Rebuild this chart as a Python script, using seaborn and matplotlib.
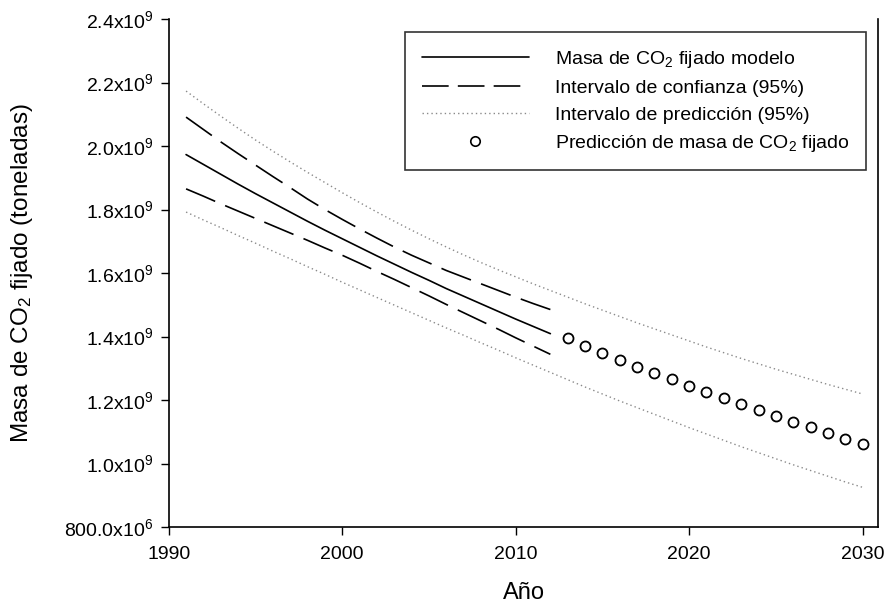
import numpy as np
import pandas as pd
import matplotlib
matplotlib.use("Agg")
import matplotlib.pyplot as plt
from matplotlib.lines import Line2D
import seaborn as sns

# ---- data (toneladas) ----
years_model = list(range(1991, 2013))
co2_model = [1.973, 1.942, 1.911, 1.880, 1.850, 1.821, 1.792, 1.763, 1.735, 1.708, 1.681,
             1.654, 1.628, 1.602, 1.577, 1.551, 1.527, 1.503, 1.479, 1.455, 1.432, 1.409]
ci_upper = [2.091, 2.052, 2.013, 1.976, 1.940, 1.904, 1.869, 1.833, 1.800, 1.769, 1.739,
            1.710, 1.682, 1.656, 1.632, 1.608, 1.587, 1.566, 1.545, 1.524, 1.504, 1.485]
ci_lower = [1.865, 1.842, 1.818, 1.795, 1.772, 1.749, 1.726, 1.703, 1.679, 1.656, 1.631,
            1.605, 1.580, 1.554, 1.528, 1.501, 1.475, 1.449, 1.423, 1.396, 1.370, 1.344]

years_pi = list(range(1991, 2031))
pi_upper = [2.173, 2.133, 2.094, 2.056, 2.019, 1.984, 1.950, 1.917, 1.885, 1.853, 1.822,
            1.792, 1.763, 1.735, 1.708, 1.682, 1.657, 1.633, 1.610, 1.588, 1.566, 1.545,
            1.524, 1.503, 1.483, 1.463, 1.443, 1.424, 1.405, 1.386, 1.367, 1.349, 1.331,
            1.314, 1.297, 1.281, 1.265, 1.249, 1.234, 1.219]
pi_lower = [1.792, 1.767, 1.743, 1.718, 1.694, 1.669, 1.645, 1.620, 1.596, 1.571, 1.547,
            1.523, 1.499, 1.475, 1.451, 1.427, 1.404, 1.380, 1.357, 1.333, 1.310, 1.287,
            1.264, 1.241, 1.219, 1.197, 1.176, 1.155, 1.134, 1.113, 1.093, 1.073, 1.053,
            1.034, 1.015, 0.996, 0.978, 0.960, 0.942, 0.925]

years_pred = list(range(2013, 2031))
co2_pred = [1.394, 1.370, 1.349, 1.326, 1.305, 1.284, 1.266, 1.244, 1.226, 1.206, 1.187,
            1.168, 1.150, 1.132, 1.114, 1.096, 1.077, 1.061]

y_ticks = [0.8e9, 1.0e9, 1.2e9, 1.4e9, 1.6e9, 1.8e9, 2.0e9, 2.2e9, 2.4e9]
y_ticklabels = [r"800.0x10$^{6}$", r"1.0x10$^{9}$", r"1.2x10$^{9}$", r"1.4x10$^{9}$",
                r"1.6x10$^{9}$", r"1.8x10$^{9}$", r"2.0x10$^{9}$", r"2.2x10$^{9}$",
                r"2.4x10$^{9}$"]
x_ticks = [1990, 2000, 2010, 2020, 2030]

SCALE = 1e9
model_df = pd.DataFrame({"Año": years_model, "modelo": np.array(co2_model) * SCALE,
                         "ic_sup": np.array(ci_upper) * SCALE,
                         "ic_inf": np.array(ci_lower) * SCALE})
pi_df = pd.DataFrame({"Año": years_pi, "ip_sup": np.array(pi_upper) * SCALE,
                      "ip_inf": np.array(pi_lower) * SCALE})
pred_df = pd.DataFrame({"Año": years_pred, "pred": np.array(co2_pred) * SCALE})

# ---- style ----
sns.set_theme(style="ticks")
plt.rcParams["font.family"] = ["Liberation Sans", "DejaVu Sans"]
plt.rcParams["mathtext.fontset"] = "custom"
plt.rcParams["mathtext.rm"] = "Liberation Sans"
plt.rcParams["mathtext.it"] = "Liberation Sans"
plt.rcParams["mathtext.default"] = "rm"
plt.rcParams["text.color"] = "black"
plt.rcParams["axes.labelcolor"] = "black"

fig = plt.figure(figsize=(8.88, 6.09), dpi=100)
ax = fig.add_axes([0.190, 0.1346, 0.799, 0.8342])

dash_style = (0, (19, 6.5))
dot_style = (0, (1, 2.2))
GREY = "#8a8a8a"

sns.lineplot(data=model_df, x="Año", y="modelo", ax=ax, color="black", lw=1.2)
sns.lineplot(data=model_df, x="Año", y="ic_sup", ax=ax, color="black", lw=1.2,
             linestyle=dash_style)
sns.lineplot(data=model_df, x="Año", y="ic_inf", ax=ax, color="black", lw=1.2,
             linestyle=dash_style)
sns.lineplot(data=pi_df, x="Año", y="ip_sup", ax=ax, color=GREY, lw=1.0,
             linestyle=dot_style)
sns.lineplot(data=pi_df, x="Año", y="ip_inf", ax=ax, color=GREY, lw=1.0,
             linestyle=dot_style)
sns.scatterplot(data=pred_df, x="Año", y="pred", ax=ax, marker="o", s=52,
                facecolor="white", edgecolor="black", linewidth=1.3, zorder=5)

ax.set_xlim(1990, 2030.9)
ax.set_ylim(0.8e9, 2.4e9)
ax.set_xticks(x_ticks)
ax.set_xticklabels([str(v) for v in x_ticks])
ax.set_yticks(y_ticks)
ax.set_yticklabels(y_ticklabels)
ax.tick_params(axis="both", direction="out", length=6, width=1.0, colors="black",
               labelsize=14, pad=5)
ax.tick_params(axis="x", pad=8)

for side in ["left", "bottom", "right"]:
    ax.spines[side].set_visible(True)
    ax.spines[side].set_color("black")
    ax.spines[side].set_linewidth(1.2)
ax.spines["top"].set_visible(False)

ax.set_xlabel("Año", fontsize=17, labelpad=13)
ax.set_ylabel(r"Masa de CO$_2$ fijado (toneladas)", fontsize=17.5, labelpad=21)

handles = [
    Line2D([], [], color="black", lw=1.2),
    Line2D([], [], color="black", lw=1.2, linestyle=(0, (16, 5.5))),
    Line2D([], [], color=GREY, lw=1.0, linestyle=dot_style),
    Line2D([], [], color="black", lw=0, marker="o", markersize=6.8,
           markerfacecolor="white", markeredgecolor="black", markeredgewidth=1.2),
]
labels = [r"Masa de CO$_2$ fijado modelo", "Intervalo de confianza (95%)",
          "Intervalo de predicción (95%)", r"Predicción de masa de CO$_2$ fijado"]
leg = ax.legend(handles, labels, loc="upper right", bbox_to_anchor=(0.983, 0.974),
                fontsize=14, frameon=True, fancybox=False, edgecolor="black",
                handlelength=5.5, handletextpad=1.35, labelspacing=0.48,
                borderpad=0.85, borderaxespad=0)
leg.get_frame().set_linewidth(1.2)

fig.savefig("out.png", dpi=100)
